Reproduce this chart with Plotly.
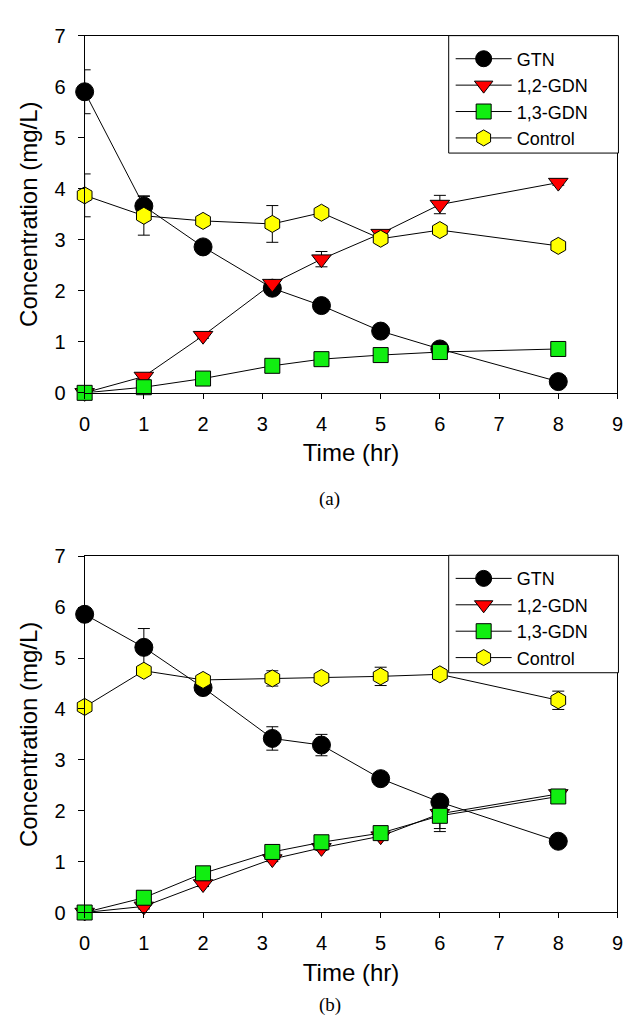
import plotly.graph_objects as go

# ---- data ----
time = [0, 1, 2, 3.17, 4, 5, 6, 8]

# panel (a)
gtn_a = [5.90, 3.66, 2.86, 2.05, 1.71, 1.21, 0.86, 0.22]
gtn_a_err = [0.43, 0.20, 0.05, 0.05, 0.05, 0.05, 0.05, 0.05]
gdn12_a = [0.00, 0.32, 1.12, 2.14, 2.62, 3.12, 3.69, 4.12]
gdn12_a_err = [0.00, 0.05, 0.05, 0.05, 0.15, 0.05, 0.18, 0.05]
gdn13_a = [0.00, 0.11, 0.28, 0.53, 0.66, 0.74, 0.80, 0.86]
gdn13_a_err = [0.00, 0.03, 0.03, 0.03, 0.03, 0.03, 0.03, 0.03]
ctrl_a = [3.87, 3.47, 3.37, 3.31, 3.53, 3.02, 3.19, 2.88]
ctrl_a_err = [0.42, 0.38, 0.05, 0.36, 0.05, 0.05, 0.05, 0.05]

# panel (b)
gtn_b = [5.86, 5.21, 4.42, 3.42, 3.29, 2.63, 2.17, 1.40]
gtn_b_err = [0.05, 0.37, 0.05, 0.23, 0.21, 0.05, 0.05, 0.05]
gdn12_b = [0.00, 0.12, 0.56, 1.05, 1.27, 1.50, 1.94, 2.33]
gdn12_b_err = [0.00, 0.05, 0.05, 0.05, 0.05, 0.05, 0.29, 0.08]
gdn13_b = [0.00, 0.29, 0.77, 1.19, 1.38, 1.56, 1.90, 2.28]
gdn13_b_err = [0.00, 0.05, 0.05, 0.05, 0.05, 0.05, 0.31, 0.12]
ctrl_b = [4.04, 4.75, 4.57, 4.60, 4.61, 4.64, 4.68, 4.17]
ctrl_b_err = [0.05, 0.05, 0.05, 0.15, 0.05, 0.18, 0.05, 0.18]

names = ["GTN", "1,2-GDN", "1,3-GDN", "Control"]
symbols = ["circle", "triangle-down", "square", "hexagon"]
colors = ["#000000", "#FF0000", "#11EE11", "#FFFF00"]
msizes = [18, 17, 15, 17]

W, H = 640, 1030
FONT = "Liberation Sans, Arial, sans-serif"
TICK_SIZE = 20
TITLE_SIZE = 24
LEG_SIZE = 18

fig = go.Figure()

panels = [
    ([gtn_a, gdn12_a, gdn13_a, ctrl_a], [gtn_a_err, gdn12_a_err, gdn13_a_err, ctrl_a_err], "x", "y", "legend"),
    ([gtn_b, gdn12_b, gdn13_b, ctrl_b], [gtn_b_err, gdn12_b_err, gdn13_b_err, ctrl_b_err], "x2", "y2", "legend2"),
]
for ys, errs, xa, ya, lg in panels:
    for name, sym, col, ms, yv, ev in zip(names, symbols, colors, msizes, ys, errs):
        fig.add_trace(go.Scatter(
            x=time, y=yv, name=name, xaxis=xa, yaxis=ya, legend=lg,
            mode="lines+markers",
            line=dict(color="black", width=1),
            marker=dict(symbol=sym, size=ms, color=col, line=dict(color="black", width=1)),
            error_y=dict(type="data", array=ev, visible=True, color="black", thickness=1, width=6),
            cliponaxis=False,
        ))

def px_x(p):
    return p / W

def px_y(p):
    return 1 - p / H

axis_common = dict(
    showline=True, linecolor="black", linewidth=1, mirror=True,
    ticks="outside", tickcolor="black", tickwidth=1,
    showgrid=False, zeroline=False,
    tickfont=dict(family=FONT, size=TICK_SIZE, color="black"),
)

def xaxis_def(anchor):
    return dict(domain=[px_x(72), px_x(615)], range=[0, 9], dtick=1, ticklen=5, anchor=anchor,
                ticklabelstandoff=8,
                title=dict(text="Time (hr)", font=dict(family=FONT, size=TITLE_SIZE), standoff=10),
                **axis_common)

def yaxis_def(anchor, top, bottom):
    return dict(domain=[px_y(bottom), px_y(top)], range=[0, 7], dtick=1, ticklen=6, anchor=anchor,
                ticklabelstandoff=8,
                title=dict(text="Concentration (mg/L)", font=dict(family=FONT, size=TITLE_SIZE), standoff=10),
                **axis_common)

def legend_def(top):
    return dict(x=px_x(445), y=px_y(top), xanchor="left", yanchor="top",
                bgcolor="rgba(0,0,0,0)", borderwidth=0, itemwidth=56,
                font=dict(family=FONT, size=LEG_SIZE, color="black"), tracegroupgap=0)

def box(top, bottom):
    return dict(type="rect", xref="paper", yref="paper", x0=px_x(443), x1=px_x(616),
                y0=px_y(bottom), y1=px_y(top), line=dict(color="black", width=1),
                fillcolor="white", layer="above")

SERIF = "Liberation Serif, DejaVu Serif, serif"
fig.update_layout(
    width=W, height=H,
    margin=dict(l=0, r=0, t=0, b=0),
    paper_bgcolor="white", plot_bgcolor="white",
    font=dict(family=FONT, color="black"),
    xaxis=xaxis_def("y"),
    yaxis=yaxis_def("x", 17, 382),
    xaxis2=xaxis_def("y2"),
    yaxis2=yaxis_def("x2", 549, 913),
    legend=legend_def(22),
    legend2=legend_def(553),
    shapes=[box(17, 137), box(548, 668)],
    annotations=[
        dict(text="(a)", xref="paper", yref="paper", x=px_x(322), y=px_y(490), showarrow=False,
             font=dict(family=SERIF, size=19, color="black")),
        dict(text="(b)", xref="paper", yref="paper", x=px_x(322), y=px_y(1021), showarrow=False,
             font=dict(family=SERIF, size=19, color="black")),
    ],
)

fig.write_html("out.html")
